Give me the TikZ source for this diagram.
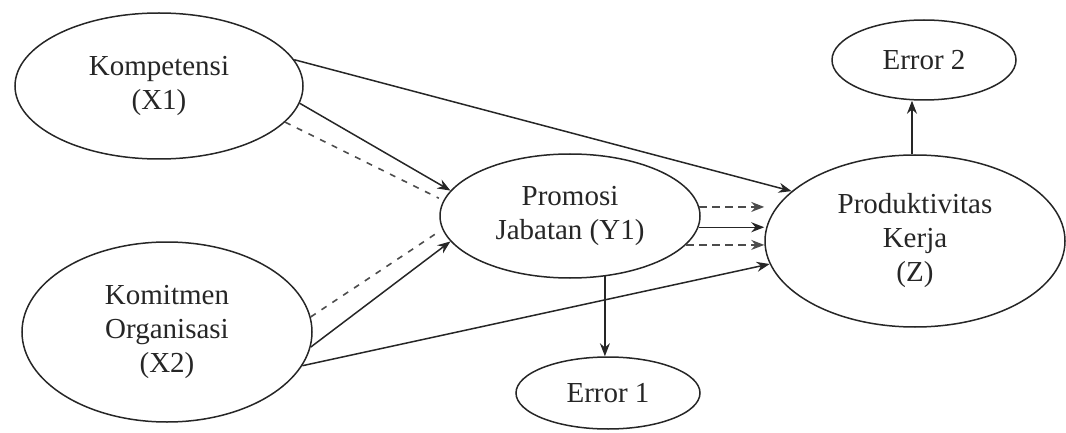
\documentclass[tikz,border=0pt]{standalone}
\usepackage{fontspec}
\setmainfont{Liberation Serif}
\usetikzlibrary{shapes.geometric,arrows.meta}
\begin{document}
\begin{tikzpicture}[x=1pt,y=-1pt,
  latent/.style={ellipse,draw=black!85,line width=1.5pt,inner sep=0pt,align=center,
    font=\fontsize{29}{34}\selectfont,text=black!85},
  tip/.style={-{Stealth[length=13pt,width=10pt]}},
  effect/.style={draw=black!85,line width=1.5pt,tip},
  indirect/.style={draw=black!70,line width=1.6pt,dash pattern=on 6pt off 7pt},
]
\useasboundingbox (0,0) rectangle (1066,433);

% latent variables
\node[latent,minimum width=288pt,minimum height=146pt] (X1) at (159,86) {Kompetensi\\(X1)};
\node[latent,minimum width=290pt,minimum height=180pt] (X2) at (167,332) {Komitmen\\Organisasi\\(X2)};
\node[latent,minimum width=260pt,minimum height=124pt] (Y) at (570,216) {Promosi\\Jabatan (Y1)};
\node[latent,minimum width=300pt,minimum height=172pt] (Z) at (915,241) {Produktivitas\\Kerja\\(Z)};
\node[latent,minimum width=184pt,minimum height=80pt] (E2) at (924,60) {Error 2};
\node[latent,minimum width=184pt,minimum height=72pt] (E1) at (608,393) {Error 1};

% direct effects
\draw[effect] (X1.11) -- (Z.158);
\draw[effect] (X1.-7) -- (Y.168);
\draw[effect] (X2.-6) -- (Y.192);
\draw[effect] (X2.-14) -- (Z.189);

% indirect paths through Y
\draw[indirect,shorten >=5pt] (X1.-16) -- (Y.173);
\draw[indirect,shorten >=5pt] (X2.6) -- (Y.186);
\draw[indirect,tip,dash pattern=on 8pt off 5pt] (Y.4) -- (Y.4 -| Z.west);
\draw[effect] (Y.-5) -- (Y.-5 -| Z.west);
\draw[indirect,tip,dash pattern=on 8pt off 5pt] (Y.-14) -- (Y.-14 -| Z.west);

% error terms
\draw[effect] (Y.-60) -- (Y.-60 |- E1.north);
\draw[effect] (Z.92) -- (Z.92 |- E2.south);
\end{tikzpicture}
\end{document}
